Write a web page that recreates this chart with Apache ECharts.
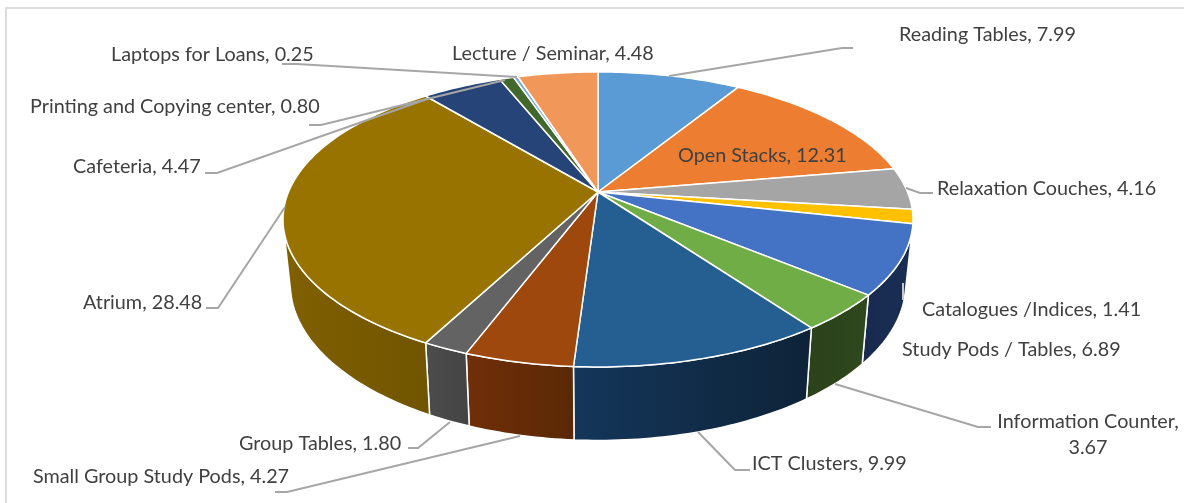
<!DOCTYPE html>
<html><head><meta charset="utf-8">
<style>html,body{margin:0;padding:0;background:#fff}#c{width:1184px;height:503px}</style>
<script src="https://cdn.jsdelivr.net/npm/echarts@6/dist/echarts.min.js"></script>
</head><body><div id="c"></div>
<script>
const categories = ['Reading Tables','Open Stacks','Relaxation Couches','Catalogues /Indices','Study Pods / Tables','Information Counter','ICT Clusters','Small Group Study Pods','Group Tables','Atrium','Cafeteria','Printing and Copying center','Laptops for Loans','Lecture / Seminar'];
const values = [7.99,12.31,4.16,1.41,6.89,3.67,9.99,4.27,1.80,28.48,4.47,0.80,0.25,4.48];

const topColors = ['#5b9bd5','#ed7d31','#a5a5a5','#ffc000','#4472c4','#70ad47','#255e91','#9e480e','#636363','#997300','#264478','#43682b','#7cafdd','#f1975a'];
const wallLeft  = ['#333','#333','#333','#333','#1a2e55','#2f481d','#14365a','#702f09','#4c4c4c','#806000','#333','#333','#333','#333'];
const wallRight = ['#333','#333','#333','#333','#182a4e','#2b421a','#0e2338','#5a2805','#444444','#705400','#333','#333','#333','#333'];

// label placement: [text anchor x, centre y, align]
const labelPlaces = [[899,35,'left'],[678,156,'left'],[937,189,'left'],[922,310,'left'],[902,350,'left'],[1088,435,'center'],[752,464,'left'],[33,477,'left'],[239,444,'left'],[83,303,'left'],[73,167,'left'],[30,107,'left'],[111,55,'left'],[452,54,'left']];
const leaderPaths = [
  [[669,76],[842,48],[853,48]],
  null,
  [[906,188],[920,193],[933,193]],
  [[903,283],[903,300]],
  null,
  [[835,384],[978,427],[991,427]],
  [[698,432],[735,470],[750,470]],
  [[520,436],[287,492],[275,492]],
  [[450,422],[418,448],[408,448]],
  [[285,207],[218,308],[206,308]],
  [[427,99],[217,173],[205,173]],
  [[505,80],[321,125],[309,125]],
  [[517,77],[297,64],[282,64]],
  null
];
const framePath = [[6,503],[6,8],[1184,8]];

// projection of the tilted disc
const view = {cx:598, cy:192, rx:309.5, ry:142.4, p:0.186, baseScaleX:0.977, baseScaleY:1.0625, baseCy:254.6, sideFrom:105, sideTo:255};
const total = values.reduce((a,b)=>a+b,0);
const startAngle = i => values.slice(0,i).reduce((a,b)=>a+b,0)/total*360;
function rim(a){
  const t=a*Math.PI/180, X=Math.sin(t), Y=-Math.cos(t), s=1/(1-view.p*Y);
  return [view.cx+view.rx*X*s, view.cy+view.ry*Y*s];
}
function base(pt){
  return [view.cx+view.baseScaleX*(pt[0]-view.cx), view.baseCy+view.baseScaleY*(pt[1]-view.cy)];
}
function arc(a0,a1){
  const n=Math.max(2,Math.ceil(Math.abs(a1-a0))), out=[];
  for(let k=0;k<=n;k++) out.push(rim(a0+(a1-a0)*k/n));
  return out;
}
const seriesData = values.map((v,i)=>({name:categories[i],value:[v,i]}));

const chart = echarts.init(document.getElementById('c'),null,{renderer:'canvas'});
chart.setOption({
  animation:false,
  backgroundColor:'#fff',
  series:[
    {type:'custom',coordinateSystem:'none',silent:true,z:1,data:[0],
     renderItem(){return {type:'polyline',shape:{points:framePath},style:{stroke:'#dcdcdc',lineWidth:2,fill:null}};}},
    {type:'custom',coordinateSystem:'none',silent:true,z:2,data:seriesData,
     renderItem(p,api){
       const i=api.value(1), a0=Math.max(startAngle(i),view.sideFrom), a1=Math.min(startAngle(i)+api.value(0)/total*360,view.sideTo);
       if(a1<=a0) return null;
       const upper=arc(a0,a1), lower=upper.map(base).reverse(), pts=upper.concat(lower);
       const xs=pts.map(q=>q[0]), x0=Math.min(...xs), x1=Math.max(...xs);
       return {type:'polygon',shape:{points:pts},style:{
         fill:new echarts.graphic.LinearGradient(x0,0,x1,0,[{offset:0,color:i<6?wallRight[i]:wallLeft[i]},{offset:1,color:i<6?wallLeft[i]:wallRight[i]}],true),
         stroke:'#fff',lineWidth:1.5,lineJoin:'round'}};
     }},
    {type:'custom',coordinateSystem:'none',silent:true,z:3,data:seriesData,
     renderItem(p,api){
       const i=api.value(1), a0=startAngle(i), a1=a0+api.value(0)/total*360;
       return {type:'polygon',shape:{points:[[view.cx,view.cy]].concat(arc(a0,a1))},style:{fill:topColors[i],stroke:'#fff',lineWidth:1.5,lineJoin:'round'}};
     }},
    {type:'custom',coordinateSystem:'none',silent:true,z:4,data:seriesData,
     renderItem(p,api){
       const i=api.value(1), pl=labelPlaces[i], kids=[];
       const path=leaderPaths[i];
       if(path) kids.push({type:'polyline',shape:{points:path},style:{stroke:i===3?'#c9c9c9':'#a6a6a6',lineWidth:2,fill:null}});
       const sep=i===5?',\n':', ';
       kids.push({type:'text',style:{text:categories[i]+sep+api.value(0).toFixed(2),x:pl[0],y:pl[1],align:pl[2],verticalAlign:'middle',fill:'#404040',font:'19.8px Lato, "Open Sans", sans-serif',lineHeight:26}});
       return {type:'group',children:kids};
     }}
  ]
});
</script></body></html>
